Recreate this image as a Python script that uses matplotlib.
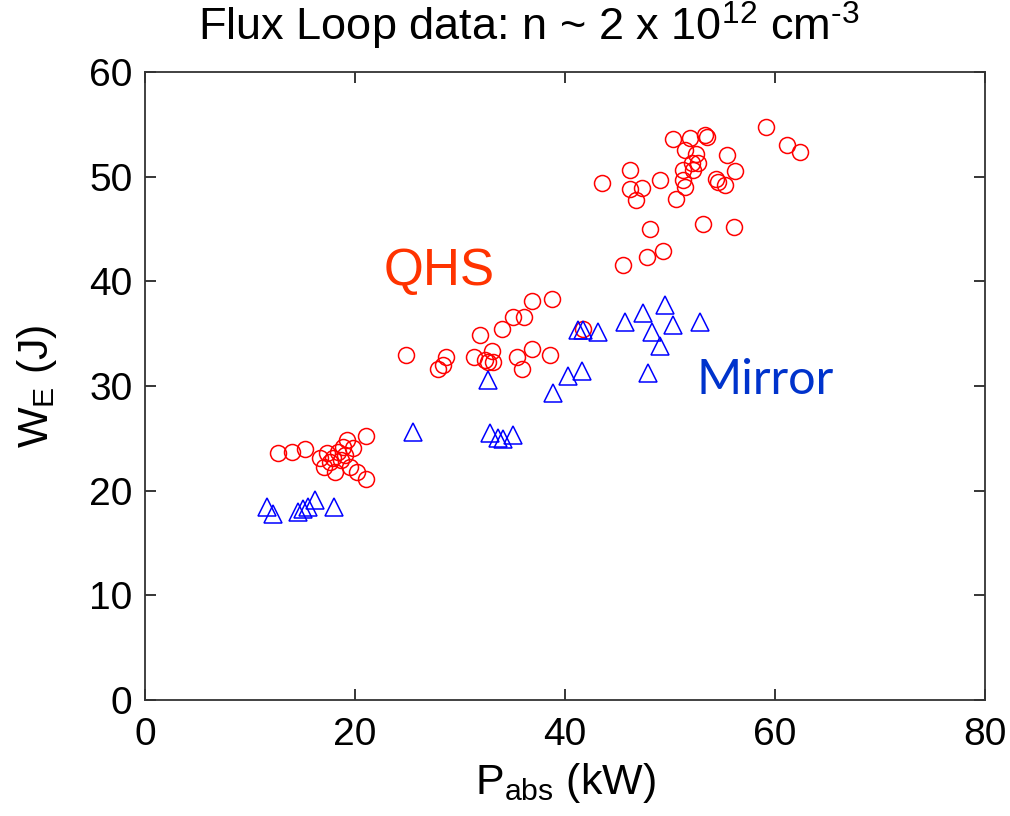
import matplotlib
matplotlib.use("Agg")
import matplotlib.pyplot as plt

qhs_x = [12.7, 14.0, 15.2, 17.0, 16.7, 17.3, 18.1, 18.4, 18.7, 18.9, 19.2, 19.8, 19.5, 20.2, 21.0, 21.0,
         17.6, 19.0, 17.9,
         24.9, 28.7, 28.4, 27.9, 31.9, 31.3, 32.4, 33.0, 32.7, 33.1, 34.0, 35.0, 36.1, 36.9, 38.8,
         35.4, 35.9, 36.9, 38.6, 41.7,
         43.5, 46.2, 46.2, 47.3, 46.8, 49.0, 50.3, 51.9, 53.3, 53.5, 51.4, 52.5, 52.1, 52.7, 51.2,
         52.2, 51.2, 51.4, 50.6, 55.4, 56.2, 54.4, 54.6, 55.2, 59.1, 61.1, 62.4, 48.1, 53.1, 56.1,
         47.8, 49.3, 45.5]
qhs_y = [23.6, 23.7, 24.0, 22.3, 23.1, 23.6, 21.8, 23.7, 22.9, 24.2, 24.8, 24.1, 22.3, 21.8, 25.2, 21.1,
         22.7, 23.4, 23.1,
         33.0, 32.8, 32.0, 31.6, 34.9, 32.8, 32.5, 33.3, 32.3, 32.3, 35.4, 36.6, 36.6, 38.1, 38.3,
         32.8, 31.6, 33.5, 33.0, 35.4,
         49.4, 50.6, 48.8, 48.9, 47.8, 49.7, 53.6, 53.7, 54.0, 53.8, 52.5, 52.2, 51.3, 51.3, 50.6,
         50.6, 49.7, 49.0, 47.9, 52.1, 50.5, 49.8, 49.5, 49.2, 54.7, 53.0, 52.4, 45.0, 45.5, 45.2,
         42.3, 42.9, 41.6]

mirror_x = [11.6, 12.2, 14.6, 15.0, 15.5, 16.2, 18.0, 25.5, 32.7, 32.9, 33.6, 34.1, 35.0, 38.9,
            40.3, 41.6, 41.2, 41.7, 43.1, 45.7, 47.4, 49.5, 50.3, 48.3, 49.0, 47.9, 52.9]
mirror_y = [18.4, 17.8, 18.0, 18.2, 18.4, 19.1, 18.4, 25.6, 30.6, 25.5, 25.0, 24.9, 25.3, 29.3,
            31.0, 31.4, 35.3, 35.3, 35.2, 36.1, 37.0, 37.7, 35.8, 35.2, 33.8, 31.2, 36.1]

x_ticks = [0, 20, 40, 60, 80]
y_ticks = [0, 10, 20, 30, 40, 50, 60]

plt.rcParams['font.family'] = ['Liberation Sans', 'DejaVu Sans']
plt.rcParams['mathtext.default'] = 'regular'

fig = plt.figure(figsize=(10.1, 8.16), dpi=100)
ax = fig.add_axes([0.1436, 0.1422, 0.8317, 0.7696])

ax.plot(qhs_x, qhs_y, linestyle='none', marker='o', markersize=11.5,
        markerfacecolor='none', markeredgecolor='#ff0000', markeredgewidth=1.1)
ax.plot(mirror_x, mirror_y, linestyle='none', marker='^', markersize=13.5,
        markerfacecolor='none', markeredgecolor='#0000ff', markeredgewidth=1.1)

ax.set_xlim(0, 80)
ax.set_ylim(0, 60)
ax.set_xticks(x_ticks)
ax.set_yticks(y_ticks)
ax.tick_params(direction='in', length=8, width=1.1, top=True, right=True,
               labelsize=28, pad=9, colors='black')
ax.tick_params(axis='x', pad=12)
for s in ax.spines.values():
    s.set_linewidth(1.3)
    s.set_color('#333333')

ax.set_xlabel(r'P$_{abs}$ (kW)', fontsize=31, labelpad=6)
ax.set_ylabel(r'W$_{E}$ (J)', fontsize=31, labelpad=22)

ax.text(0.2836, 0.661, 'QHS', transform=ax.transAxes, fontsize=37,
        color='#ff3300', family=['Liberation Sans', 'DejaVu Sans'])
ax.text(0.6560, 0.4865, 'Mirror', transform=ax.transAxes, fontsize=35,
        color='#0033cc', family=['Lato', 'DejaVu Sans'])

fig.text(0.524, 0.968, 'Flux Loop data: n ~ 2 x 10$^{12}$ cm$^{\u20103}$', ha='center', va='center',
         fontsize=32.5, family=['Liberation Sans', 'DejaVu Sans'])

fig.savefig('out.png', dpi=100)
